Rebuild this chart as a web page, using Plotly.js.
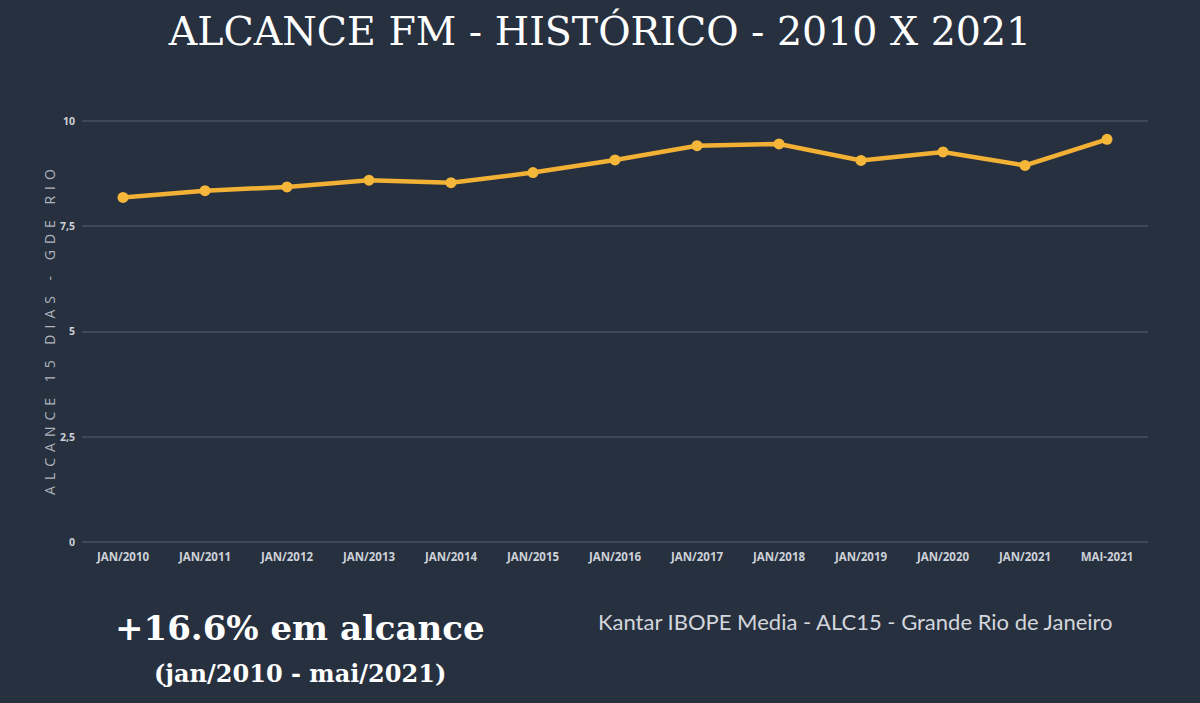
<!DOCTYPE html>
<html>
<head>
<meta charset="utf-8">
<script src="https://cdn.plot.ly/plotly-3.0.1.min.js"></script>
<style>
  html, body { margin: 0; padding: 0; background: #27303f; }
  #chart { width: 1200px; height: 703px; }
  /* spaced-out axis title like the original */
  .annotation[data-index="0"] text { letter-spacing: 6px; }
</style>
</head>
<body>
<div id="chart"></div>
<script>
// ------------ DATA ------------
const periods = ["JAN/2010", "JAN/2011", "JAN/2012", "JAN/2013", "JAN/2014", "JAN/2015",
  "JAN/2016", "JAN/2017", "JAN/2018", "JAN/2019", "JAN/2020", "JAN/2021", "MAI-2021"];
const alcance = [8.19, 8.35, 8.44, 8.60, 8.54, 8.78, 9.08, 9.42, 9.46, 9.07, 9.27, 8.95, 9.57];
const yTicks = [0, 2.5, 5, 7.5, 10];
const yTickText = ["0", "2,5", "5", "7,5", "10"];
// ------------ END DATA ------------

const BG = "#27303f";
const GRID = "#3d4759";
const LABEL = "#cdd1d8";

const trace = {
  x: periods,
  y: alcance,
  type: "scatter",
  mode: "lines+markers",
  hoverinfo: "none",
  line: { color: "#f2b134", width: 4.5 },
  marker: { color: "#f5b73a", size: 11 },
};

const layout = {
  width: 1200,
  height: 703,
  paper_bgcolor: BG,
  plot_bgcolor: BG,
  showlegend: false,
  margin: { t: 120, b: 161, l: 82, r: 52 },
  title: {
    text: "ALCANCE FM - HISTÓRICO - 2010 X 2021",
    font: { family: "DejaVu Serif", size: 39.5, color: "#ffffff" },
    x: 0.5,
    xanchor: "center",
    xref: "container",
    y: 0.955,
    yanchor: "middle",
    yref: "container",
  },
  xaxis: {
    type: "category",
    range: [-0.5, periods.length - 0.5],
    showgrid: false,
    zeroline: false,
    showline: false,
    ticks: "",
    tickangle: 0,
    ticklabelstandoff: 6,
    tickfont: { family: "Open Sans", size: 11.5, color: LABEL, weight: 700 },
  },
  yaxis: {
    range: [0, 10.03],
    tickvals: yTicks,
    ticktext: yTickText,
    showgrid: true,
    gridcolor: GRID,
    gridwidth: 2,
    zeroline: true,
    zerolinecolor: GRID,
    zerolinewidth: 2,
    showline: false,
    ticks: "",
    ticklabelstandoff: 6,
    tickfont: { family: "Open Sans", size: 10.5, color: LABEL, weight: 700 },
  },
  annotations: [
    {
      text: "ALCANCE 15 DIAS - GDE RIO",
      xref: "paper", yref: "paper",
      x: -0.03, y: 0.505,
      xanchor: "center", yanchor: "middle",
      textangle: -90,
      showarrow: false,
      font: { family: "Open Sans", size: 14, color: "#aeb4be" },
    },
    {
      text: "<b>+16.6% em alcance</b>",
      xref: "paper", yref: "paper",
      x: 0.2045, y: -0.204,
      xanchor: "center", yanchor: "middle",
      showarrow: false,
      font: { family: "DejaVu Serif", size: 34, color: "#ffffff" },
    },
    {
      text: "<b>(jan/2010 - mai/2021)</b>",
      xref: "paper", yref: "paper",
      x: 0.2045, y: -0.312,
      xanchor: "center", yanchor: "middle",
      showarrow: false,
      font: { family: "DejaVu Serif", size: 24, color: "#ffffff" },
    },
    {
      text: "Kantar IBOPE Media - ALC15 - Grande Rio de Janeiro",
      xref: "paper", yref: "paper",
      x: 0.726, y: -0.188,
      xanchor: "center", yanchor: "middle",
      showarrow: false,
      font: { family: "Lato", size: 22, color: "#d3d6dc" },
    },
  ],
};

Plotly.newPlot("chart", [trace], layout, { displayModeBar: false, staticPlot: true });
</script>
</body>
</html>
